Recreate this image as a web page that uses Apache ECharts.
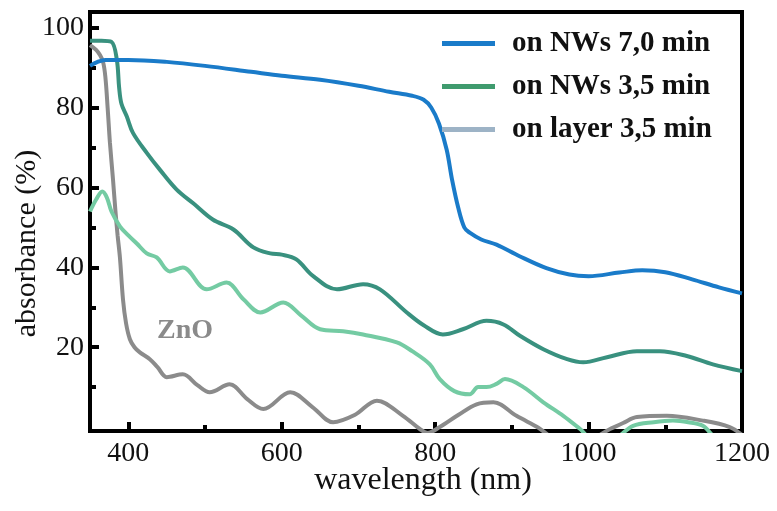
<!DOCTYPE html>
<html>
<head>
<meta charset="utf-8">
<script src="https://cdn.jsdelivr.net/npm/echarts@6/dist/echarts.min.js"></script>
<style>
  html, body { margin: 0; padding: 0; background: #fff; }
  #chart { width: 777px; height: 511px; }
</style>
</head>
<body>
<div id="chart"></div>
<script>
// wavelength (nm) / absorbance (%)
var nw70X = [350, 360, 370, 400, 450, 500, 560, 600, 650, 700, 740, 770, 785, 795, 805, 815, 822, 830, 838, 845, 860, 880, 910, 945, 975, 1000, 1040, 1070, 1100, 1135, 1170, 1200];
var nw70Y = [90.5, 91.5, 92, 92, 91.5, 90.5, 89, 88, 87, 85.5, 84, 83, 82, 80, 76, 69.5, 62, 55, 50, 48.7, 47, 45.7, 42.8, 39.8, 38.2, 37.8, 38.7, 39.3, 38.8, 37, 35, 33.5];

var nw35X = [350, 365, 378, 385, 388, 391, 398, 406, 424, 441, 463, 485, 510, 537, 563, 585, 600, 619, 641, 672, 706, 728, 763, 785, 810, 836, 867, 889, 911, 941, 972, 993, 1024, 1063, 1093, 1128, 1162, 1200];
var nw35Y = [96.8, 96.8, 96.5, 92, 85, 81, 77.8, 73.7, 68.7, 64.5, 59.5, 56, 52, 49.5, 45, 43.5, 43.2, 42, 37.8, 34.5, 35.8, 34.5, 28.7, 25.5, 23.2, 24.5, 26.6, 25.7, 22.8, 19.5, 17, 16.2, 17.5, 19, 19, 17.8, 15.7, 14];

var layerX = [350, 358, 366, 372, 378, 389, 400, 411, 424, 437, 454, 471, 502, 528, 550, 572, 602, 625, 650, 680, 706, 750, 770, 793, 806, 825, 845, 856, 867, 880, 891, 915, 941, 967, 989, 1005, 1030, 1058, 1085, 1110, 1130, 1149, 1170, 1200];
var layerY = [54, 57, 59, 57.5, 54, 50.3, 48, 46, 43.5, 42.5, 39, 40, 34.5, 36.2, 32, 28.7, 31.2, 28, 24.5, 24, 23.2, 21.2, 19, 15.7, 12, 9, 8.2, 10, 10, 10.8, 12, 10, 6.2, 2.8, -0.5, -3, -3, 0.3, 1.2, 1.6, 1.2, 0.3, -3, -3];

var znoX = [350, 358, 363, 367, 370, 373, 376, 380, 383, 386, 389, 393, 397, 402, 408, 415, 428, 438, 450, 471, 490, 506, 532, 555, 576, 611, 640, 667, 695, 724, 758, 780, 790, 806, 830, 854, 876, 906, 933, 960, 1000, 1028, 1045, 1063, 1102, 1149, 1184, 1200];
var znoY = [95.7, 94.5, 93.2, 91.5, 87.8, 80, 71.2, 62, 54.5, 48, 42.5, 32, 26, 22, 20, 18.7, 17, 15, 12.5, 13.2, 10.5, 8.7, 10.7, 7, 4.5, 8.7, 5, 1.2, 3, 6.6, 2.8, -0.5, -1.5, 0, 3, 5.7, 6.2, 2.8, 0, -3, -3, -0.5, 1, 2.5, 2.8, 1.6, 0, -2];

var xLabels = [400, 600, 800, 1000, 1200];
var xTicks = [400, 500, 600, 700, 800, 900, 1000, 1100, 1200];
var yLabels = [20, 40, 60, 80, 100];
var yTicks = [10, 20, 30, 40, 50, 60, 70, 80, 90, 100];

function pairs(xs, ys) {
  return xs.map(function (x, i) { return [x, ys[i]]; });
}

var serif = 'Liberation Serif';
var myChart = echarts.init(document.getElementById('chart'));

// plot frame: x 350..1200 over 90..742 px, y -1..104 over 431..12 px
var L = 90, R = 742, T = 12, B = 431;
var xMin = 350, xMax = 1200, yMin = -1, yMax = 104;
var pxX = (R - L) / (xMax - xMin);
var pxY = (B - T) / (yMax - yMin);
var majorLen = 9;

function hidden(grid, min, max) {
  return {gridIndex: grid, type: 'value', min: min, max: max, show: false};
}

var option = {
  animation: false,
  backgroundColor: '#fff',
  grid: [
    {left: L, right: 777 - R, top: T, bottom: 511 - B, outerBoundsMode: 'none', containLabel: false,
     show: true, borderColor: '#000', borderWidth: 4},
    // thin strip along the left axis, y 20..100: its split lines are the long y ticks
    {left: L, width: majorLen, top: T + (yMax - 100) * pxY, bottom: 511 - (B - (20 - yMin) * pxY),
     outerBoundsMode: 'none', containLabel: false, show: false},
    // thin strip along the bottom axis, x 400..1200: its split lines are the long x ticks
    {left: L + (400 - xMin) * pxX, right: 777 - R, top: B - majorLen, bottom: 511 - B,
     outerBoundsMode: 'none', containLabel: false, show: false}
  ],
  legend: {
    orient: 'vertical',
    left: 442,
    top: 28,
    padding: 0,
    icon: 'rect',
    itemWidth: 53,
    itemHeight: 5,
    itemGap: 12,
    textStyle: {
      fontFamily: serif, fontSize: 29, fontWeight: 'bold', color: '#111',
      lineHeight: 31, padding: [0, 0, 0, 12]
    },
    data: [
      {name: 'on NWs 7,0 min', itemStyle: {color: '#1a7bc9'}},
      {name: 'on NWs 3,5 min', itemStyle: {color: '#3f9b6e'}},
      {name: 'on layer 3,5 min', itemStyle: {color: '#9db3c6'}}
    ]
  },
  xAxis: [{
    gridIndex: 0, type: 'value', min: xMin, max: xMax, position: 'bottom',
    name: 'wavelength (nm)', nameLocation: 'middle', nameGap: 34, nameMoveOverlap: false,
    nameTextStyle: {fontFamily: serif, fontSize: 32, color: '#111', padding: [0, 0, 0, 14]},
    axisLine: {show: true, onZero: false, lineStyle: {color: '#000', width: 4}},
    axisTick: {show: true, inside: true, length: 6, customValues: xTicks, lineStyle: {color: '#000', width: 4}},
    axisLabel: {customValues: xLabels, fontFamily: serif, fontSize: 28, color: '#111', margin: 9,
      formatter: function (v) { return String(v); }},
    splitLine: {show: false}
  },
  hidden(1, xMin, xMax),
  {
    gridIndex: 2, type: 'value', min: 400, max: 1200, interval: 200, position: 'bottom',
    axisLine: {show: false, onZero: false},
    axisTick: {show: false},
    axisLabel: {show: false},
    splitLine: {show: true, lineStyle: {color: '#000', width: 4, type: 'solid'}}
  }],
  yAxis: [{
    gridIndex: 0, type: 'value', min: yMin, max: yMax, position: 'left',
    name: 'absorbance (%)', nameLocation: 'middle', nameGap: 48, nameMoveOverlap: false,
    nameTextStyle: {fontFamily: serif, fontSize: 30, color: '#111', padding: [0, 44, 0, 0]},
    axisLine: {show: true, onZero: false, lineStyle: {color: '#000', width: 4}},
    axisTick: {show: true, inside: true, length: 6, customValues: yTicks, lineStyle: {color: '#000', width: 4}},
    axisLabel: {customValues: yLabels, fontFamily: serif, fontSize: 28, color: '#111', margin: 6,
      formatter: function (v) { return String(v); }},
    splitLine: {show: false}
  }, {
    gridIndex: 1, type: 'value', min: 20, max: 100, interval: 20, position: 'left',
    axisLine: {show: false, onZero: false},
    axisTick: {show: false},
    axisLabel: {show: false},
    splitLine: {show: true, lineStyle: {color: '#000', width: 4, type: 'solid'}}
  },
  hidden(2, yMin, yMax)],
  graphic: [{
    type: 'text',
    left: 157, top: 317,
    style: {text: 'ZnO', fontFamily: serif, fontSize: 28, fontWeight: 'bold', fill: '#8a8a8a'}
  }],
  series: [
    {name: 'ZnO', type: 'line', xAxisIndex: 0, yAxisIndex: 0, data: pairs(znoX, znoY), showSymbol: false, smooth: 0.35,
     lineStyle: {width: 4, color: '#8b8b8b'}, itemStyle: {color: '#8b8b8b'}},
    {name: 'on layer 3,5 min', type: 'line', xAxisIndex: 0, yAxisIndex: 0, data: pairs(layerX, layerY), showSymbol: false, smooth: 0.35,
     lineStyle: {width: 4, color: '#74cba3'}, itemStyle: {color: '#74cba3'}},
    {name: 'on NWs 3,5 min', type: 'line', xAxisIndex: 0, yAxisIndex: 0, data: pairs(nw35X, nw35Y), showSymbol: false, smooth: 0.35,
     lineStyle: {width: 4, color: '#39917f'}, itemStyle: {color: '#39917f'}},
    {name: 'on NWs 7,0 min', type: 'line', xAxisIndex: 0, yAxisIndex: 0, data: pairs(nw70X, nw70Y), showSymbol: false, smooth: 0.35,
     lineStyle: {width: 4, color: '#1a7bc9'}, itemStyle: {color: '#1a7bc9'}}
  ]
};

myChart.setOption(option);
</script>
</body>
</html>
